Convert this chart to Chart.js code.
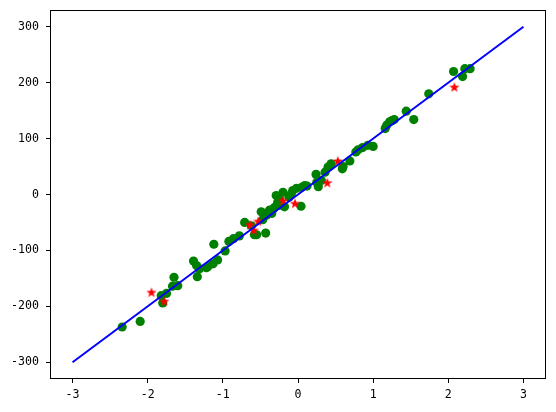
<!DOCTYPE html>
<html>
<head>
<meta charset="utf-8">
<script src="https://cdn.jsdelivr.net/npm/chart.js@4/dist/chart.umd.min.js"></script>
<style>
  html, body { margin: 0; padding: 0; background: #fff; }
  #chart { display: block; }
</style>
</head>
<body>
<canvas id="chart" width="556" height="412"></canvas>
<script>
// training points (green)
const trainX = [2.07, 2.22, 2.29, 2.19, 1.74, 1.44, 1.54, 1.28, 1.22, 1.18, 1.16, 1.25,
    1.00, 0.93, 0.86, 0.80, 0.77, 0.69, 0.59, 0.60, 0.44, 0.40, 0.36, 0.24, 0.31, 0.25,
    0.27, 0.09, 0.12, 0.05, 0.04, -0.02, -0.07, -0.09, -0.12, -0.20, -0.25, -0.29, -0.27,
    -0.24, -0.18, -0.31, -0.33, -0.35, -0.38, -0.42, -0.49, -0.47, -0.71, -0.55, -0.58,
    -0.43, -0.62, -0.78, -0.86, -0.92, -0.97, -1.12, -1.07, -1.13, -1.20, -1.39, -1.35,
    -1.31, -1.22, -1.34, -1.65, -1.67, -1.60, -1.75, -1.82, -1.80, -2.10, -2.34];
const trainY = [220, 225, 225, 211, 180, 149, 134, 134, 130, 124, 118, 132,
    86, 88, 84, 80, 76, 60, 46, 50, 55, 49, 40, 36, 25, 22,
    14, 16, 15, 13, -21, 11, 7, 1, -5, 4, -8, -2, -14,
    -19, -22, -23, -26, -34, -28, -37, -31, -45, -50, -72, -72,
    -69, -56, -74, -79, -84, -101, -89, -117, -124, -129, -119, -127,
    -133, -131, -147, -148, -164, -163, -177, -181, -194, -227, -237];

// test points (red stars)
const testX = [-1.95, -1.78, -0.64, -0.53, -0.59, -0.20, -0.04, 0.39, 0.53, 2.08];
const testY = [-175, -191, -54, -48, -64, -11, -16, 21, 60, 192];

// fitted line
const lineX = [-3, 3];
const lineY = [-300, 300];

const xTicks = [-3, -2, -1, 0, 1, 2, 3];
const yTicks = [-300, -200, -100, 0, 100, 200, 300];

function toPoints(xs, ys) {
    return xs.map((x, i) => ({ x: x, y: ys[i] }));
}

// filled 5 point star, like matplotlib '*'
function makeStar(color) {
    const c = document.createElement('canvas');
    c.width = 12;
    c.height = 12;
    const ctx = c.getContext('2d');
    const outer = 5.4, inner = 2.2;
    ctx.beginPath();
    for (let i = 0; i < 10; i++) {
        const r = i % 2 === 0 ? outer : inner;
        const a = -Math.PI / 2 + i * Math.PI / 5;
        const px = 6 + r * Math.cos(a);
        const py = 6.4 + r * Math.sin(a);
        if (i === 0) ctx.moveTo(px, py); else ctx.lineTo(px, py);
    }
    ctx.closePath();
    ctx.fillStyle = color;
    ctx.fill();
    return c;
}

const frame = {
    id: 'frame',
    afterDraw(chart) {
        const a = chart.chartArea;
        const ctx = chart.ctx;
        ctx.save();
        ctx.strokeStyle = '#000';
        ctx.lineWidth = 1;
        ctx.strokeRect(a.left + 0.5, a.top + 0.5, a.right - a.left - 1, a.bottom - a.top - 1);
        ctx.restore();
    }
};

const tickFont = { family: "'DejaVu Sans Mono', monospace", size: 11.6 };

new Chart(document.getElementById('chart'), {
    type: 'scatter',
    data: {
        datasets: [
            {
                type: 'line',
                data: toPoints(lineX, lineY),
                borderColor: '#0000ff',
                borderWidth: 2,
                pointRadius: 0,
                fill: false
            },
            {
                data: toPoints(testX, testY),
                pointStyle: makeStar('#ff0000'),
                pointRadius: 6
            },
            {
                data: toPoints(trainX, trainY),
                backgroundColor: '#008000',
                borderColor: '#008000',
                borderWidth: 0,
                pointRadius: 4.6
            }
        ]
    },
    options: {
        responsive: false,
        animation: false,
        layout: { padding: { top: 10, right: 10, left: 0, bottom: 0 } },
        plugins: { legend: { display: false }, tooltip: { enabled: false } },
        scales: {
            x: {
                type: 'linear',
                min: -3.3,
                max: 3.3,
                afterBuildTicks: s => { s.ticks = xTicks.map(v => ({ value: v })); },
                afterFit: s => { s.height = 33; s.paddingLeft = 0; s.paddingRight = 0; },
                border: { display: false },
                grid: { drawOnChartArea: false, drawTicks: true, tickLength: 4, color: '#000' },
                ticks: { color: '#000', font: tickFont, padding: 5, maxRotation: 0 }
            },
            y: {
                type: 'linear',
                min: -330,
                max: 330,
                afterBuildTicks: s => { s.ticks = yTicks.map(v => ({ value: v })); },
                afterFit: s => { s.width = 50; s.paddingTop = 0; s.paddingBottom = 0; },
                border: { display: false },
                grid: { drawOnChartArea: false, drawTicks: true, tickLength: 4, color: '#000' },
                ticks: { color: '#000', font: tickFont, padding: 7 }
            }
        }
    },
    plugins: [frame]
});
</script>
</body>
</html>
